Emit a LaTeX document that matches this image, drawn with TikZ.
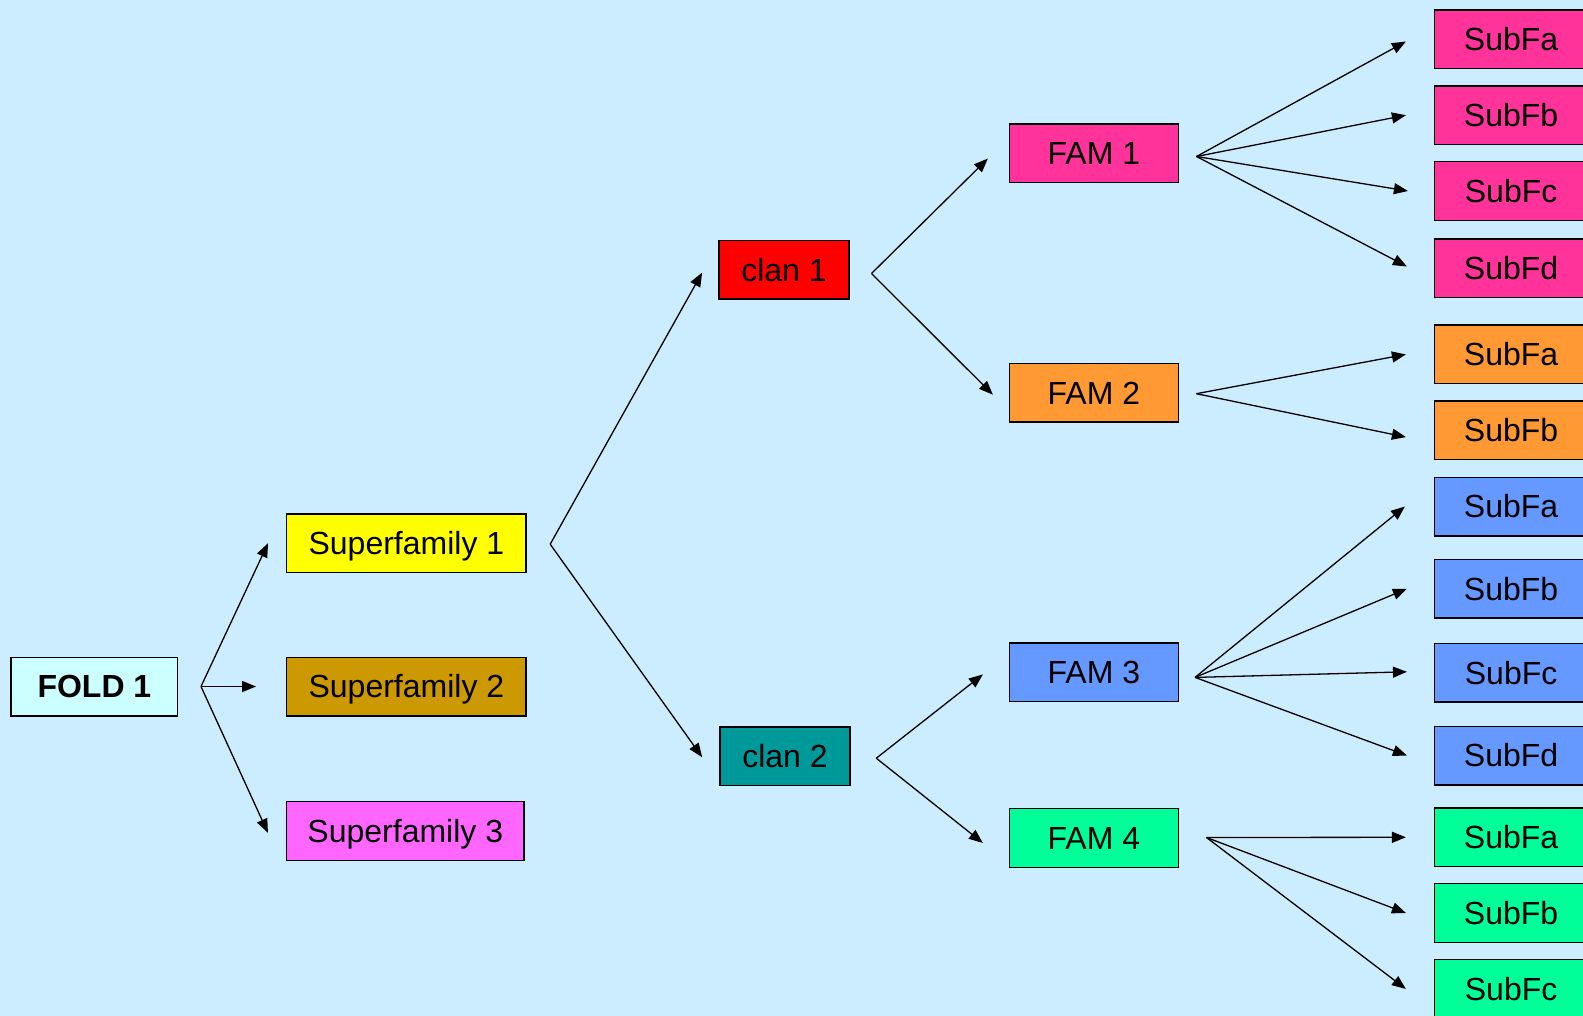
\documentclass[tikz,border=0pt]{standalone}
\usepackage{fontspec}
\setmainfont{Liberation Sans}
\usetikzlibrary{arrows.meta}
\definecolor{bgc}{HTML}{CCECFF}
\definecolor{cfold}{HTML}{CCFFFF}
\definecolor{csfa}{HTML}{FFFF00}
\definecolor{csfb}{HTML}{CC9900}
\definecolor{csfc}{HTML}{FF66FF}
\definecolor{cclana}{HTML}{FF0000}
\definecolor{cclanb}{HTML}{009999}
\definecolor{cfama}{HTML}{FF3399}
\definecolor{cfamb}{HTML}{FF9933}
\definecolor{cfamc}{HTML}{6699FF}
\definecolor{cfamd}{HTML}{00FF99}
\tikzset{
  box/.style={draw=black, line width=1.4pt, inner sep=0pt, minimum height=58.6pt,
    text height=22.9pt, text depth=0pt,
    font=\fontsize{32}{38}\selectfont, text=black},
  subbox/.style={box, minimum width=153pt},
  famb/.style={box, minimum width=168.6pt},
  arr/.style={line width=1.3pt, -{Triangle[length=14pt,width=11pt]}}
}
\begin{document}
\begin{tikzpicture}[x=1pt,y=-1pt]
\useasboundingbox (0,0) rectangle (1583,1016);
\clip (0,0) rectangle (1583,1016);
\fill[bgc] (0,0) rectangle (1583,1016);

% nodes
\node[box, fill=cfold, minimum width=166.6pt, font=\fontsize{32}{38}\selectfont\bfseries] (fold) at (94.4,686.5) {FOLD 1};
\node[box, fill=csfa, minimum width=239.3pt] (sfa) at (406.4,543.2) {Superfamily 1};
\node[box, fill=csfb, minimum width=239.3pt] (sfb) at (406.4,686.5) {Superfamily 2};
\node[box, fill=csfc, minimum width=237.3pt] (sfc) at (405.3,830.9) {Superfamily 3};
\node[box, fill=cclana, minimum width=130.3pt] (clana) at (784,269.6) {clan 1};
\node[box, fill=cclanb, minimum width=130.3pt] (clanb) at (785,756.2) {clan 2};
\node[famb, fill=cfama] (fama) at (1093.9,153.5) {FAM 1};
\node[famb, fill=cfamb] (famb) at (1093.9,392.7) {FAM 2};
\node[famb, fill=cfamc] (famc) at (1093.9,672.4) {FAM 3};
\node[famb, fill=cfamd] (famd) at (1093.9,838) {FAM 4};

\node[subbox, fill=cfama] (a1) at (1511.1,39.5) {SubFa};
\node[subbox, fill=cfama] (a2) at (1511.1,115.2) {SubFb};
\node[subbox, fill=cfama] (a3) at (1511.1,191) {SubFc};
\node[subbox, fill=cfama] (a4) at (1511.1,268.5) {SubFd};
\node[subbox, fill=cfamb] (b1) at (1511.1,354.4) {SubFa};
\node[subbox, fill=cfamb] (b2) at (1511.1,430.1) {SubFb};
\node[subbox, fill=cfamc] (c1) at (1511.1,506.5) {SubFa};
\node[subbox, fill=cfamc] (c2) at (1511.1,588.8) {SubFb};
\node[subbox, fill=cfamc] (c3) at (1511.1,672.8) {SubFc};
\node[subbox, fill=cfamc] (c4) at (1511.1,755.5) {SubFd};
\node[subbox, fill=cfamd] (d1) at (1511.1,837.3) {SubFa};
\node[subbox, fill=cfamd] (d2) at (1511.1,913) {SubFb};
\node[subbox, fill=cfamd] (d3) at (1511.1,989) {SubFc};

% fork points
\coordinate (fF) at (201,686.5);
\coordinate (fS) at (550.2,544.2);
\coordinate (fCa) at (871.5,273.5);
\coordinate (fCb) at (876.3,758.2);
\coordinate (fMa) at (1196.5,156.5);
\coordinate (fMb) at (1196.4,393.7);
\coordinate (fMc) at (1195,677.4);
\coordinate (fMd) at (1206.5,837.5);

% connectors
\draw[arr] (fF) -- ([xshift=-18pt]sfa.west);
\draw[arr] (fF) -- ([xshift=-30pt]sfb.west);
\draw[arr] (fF) -- ([xshift=-18pt,yshift=-2pt]sfc.west);

\draw[arr] (fS) -- ([xshift=-16pt,yshift=-3pt]clana.west);
\draw[arr] (fS) -- ([xshift=-17pt,yshift=-1pt]clanb.west);

\draw[arr] (fCa) -- ([xshift=-21pt,yshift=-5pt]fama.west);
\draw[arr] (fCa) -- ([xshift=-16pt,yshift=-2pt]famb.west);
\draw[arr] (fCb) -- ([xshift=-26pt,yshift=-2pt]famc.west);
\draw[arr] (fCb) -- ([xshift=-26pt,yshift=-5pt]famd.west);

\draw[arr] (fMa) -- ([xshift=-28pt,yshift=-2pt]a1.west);
\draw[arr] (fMa) -- ([xshift=-28pt]a2.west);
\draw[arr] (fMa) -- ([xshift=-26pt]a3.west);
\draw[arr] (fMa) -- ([xshift=-27pt,yshift=2pt]a4.west);

\draw[arr] (fMb) -- ([xshift=-28pt]b1.west);
\draw[arr] (fMb) -- ([xshift=-28pt,yshift=-7pt]b2.west);

\draw[arr] (fMc) -- ([xshift=-29pt]c1.west);
\draw[arr] (fMc) -- ([xshift=-27pt]c2.west);
\draw[arr] (fMc) -- ([xshift=-27pt,yshift=1pt]c3.west);
\draw[arr] (fMc) -- ([xshift=-27pt]c4.west);

\draw[arr] (fMd) -- ([xshift=-28pt]d1.west);
\draw[arr] (fMd) -- ([xshift=-28pt]d2.west);
\draw[arr] (fMd) -- ([xshift=-28pt]d3.west);
\end{tikzpicture}
\end{document}
